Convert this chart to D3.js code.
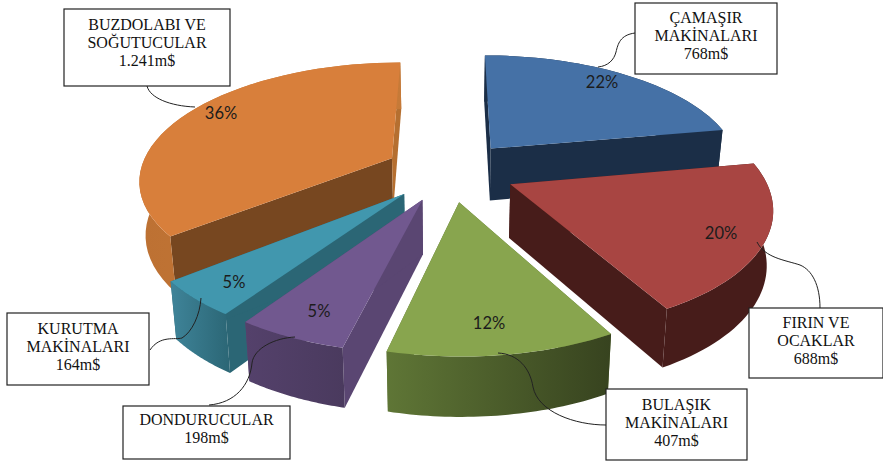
<!DOCTYPE html>
<html>
<head>
<meta charset="utf-8">
<script src="https://cdn.jsdelivr.net/npm/d3@7"></script>
<style>
  html, body { margin: 0; padding: 0; background: #fff; }
  svg { display: block; }
</style>
</head>
<body>
<svg id="chart"></svg>
<script>
// data, clockwise from 12 o'clock
const categories = ["ÇAMAŞIR MAKİNALARI", "FIRIN VE OCAKLAR", "BULAŞIK MAKİNALARI", "DONDURUCULAR", "KURUTMA MAKİNALARI", "BUZDOLABI VE SOĞUTUCULAR"];
const values = [768, 688, 407, 198, 164, 1241];
const valueLabels = ["768m$", "688m$", "407m$", "198m$", "164m$", "1.241m$"];
const percentLabels = ["22%", "20%", "12%", "5%", "5%", "36%"];

// styles
const topColors = ["#4571a6", "#a84542", "#88a54e", "#71588f", "#4197ae", "#d87f3b"];
const startWallColors = ["#1b2e47", "#471c1a", "#5b7033", "#5a4672", "#2b6675", "#774720"];
const endWallColors = ["#1b2e47", "#471c1a", "#5b7033", "#5a4672", "#2b6675", "#b56f30"];
const rimColors = [["#1b2e47", "#1b2e47"], ["#471c1a", "#471c1a"], ["#5f7636", "#37431f"], ["#54416b", "#4a3a5e"], ["#3f8499", "#2b6675"], ["#bd7133", "#c67a38"]];

// annotation layout: box x, y, w, h, first baseline, text lines, leader path, percent label spot
const boxLines = [["ÇAMAŞIR", "MAKİNALARI"], ["FIRIN VE", "OCAKLAR"], ["BULAŞIK", "MAKİNALARI"], ["DONDURUCULAR"], ["KURUTMA", "MAKİNALARI"], ["BUZDOLABI VE", "SOĞUTUCULAR"]];
const boxes = [[635, 3, 142, 71, 20], [749, 308, 134, 70, 20], [606, 389, 141, 71, 21], [123, 406, 167, 53, 19], [7, 313, 142, 72, 21], [64, 9, 166, 77, 21]];
const leaders = [
  "M635,33 C620,35 618,44 616,52 C614,60 608,66 598,67",
  "M820,308 C820,285 812,270 800,265 C785,260 765,258 757,242",
  "M606,425 C575,425 538,412 533,387 C530,368 518,354 498,353",
  "M209,405 C235,403 250,385 252,363 C254,348 275,338 295,337",
  "M150,350 C160,335 175,340 182,338 C192,332 200,315 201,298",
  "M147,86 C150,98 170,106 195,107"
];
const percentSpots = [[602, 82], [721, 233], [489, 323], [319, 311], [234, 282], [221, 113]];

const width = 883;
const height = 464;

const svg = d3.select("#chart").attr("width", width).attr("height", height);
const defs = svg.append("defs");

// the disc lives in unit coordinates, this puts it on the screen with some perspective
const cx = 450, cy = 171, rx = 252, ry = 116, persp = 0.17;
const explode = 0.26;
const scaleX = d3.scaleLinear().domain([0, 1]).range([cx, cx + rx]);
const scaleY = d3.scaleLinear().domain([0, 1]).range([cy, cy - ry]);

function project(X, Y, drop) {
  const w = 1 + persp * Y;
  // walls lean in a little towards the middle
  const x = drop ? (X / w) * 0.98 : X / w;
  return [scaleX(x), scaleY(Y / w) + (drop ? 53 * (1 - 0.11 * Y) : 0)];
}

const pie = d3.pie().sort(null).value((d) => d);
const arcs = pie(values);
const line = d3.line();

// every slice as points: apex plus the rim
const slices = arcs.map((a, i) => {
  const mid = (a.startAngle + a.endAngle) / 2;
  const ox = explode * Math.sin(mid);
  const oy = explode * Math.cos(mid);
  const steps = d3.range(0, 41).map((s) => a.startAngle + (a.endAngle - a.startAngle) * s / 40);
  const rim = steps.map((t) => [ox + Math.sin(t), oy + Math.cos(t)]);
  return { i, ox, oy, rim };
});

const flat = (p) => project(p[0], p[1], false);
const low = (p) => project(p[0], p[1], true);

slices.forEach((s) => {
  const g = defs.append("linearGradient").attr("id", "rim" + s.i);
  g.append("stop").attr("offset", "0%").attr("stop-color", rimColors[s.i][0]);
  g.append("stop").attr("offset", "100%").attr("stop-color", rimColors[s.i][1]);
});

const drawOrder = [0, 5, 1, 4, 3, 2];
const pieG = svg.append("g");

drawOrder.forEach((i) => {
  const s = slices[i];
  const apex = [s.ox, s.oy];
  const first = s.rim[0];
  const last = s.rim[s.rim.length - 1];
  const g = pieG.append("g");

  // two cut walls
  [[first, startWallColors[i]], [last, endWallColors[i]]].forEach(([edge, color]) => {
    g.append("path")
      .attr("d", line([flat(apex), flat(edge), low(edge), low(apex)]) + "Z")
      .attr("fill", color);
  });
  // outer wall
  g.append("path")
    .attr("d", line(s.rim.map(flat).concat(s.rim.slice().reverse().map(low))) + "Z")
    .attr("fill", `url(#rim${i})`);
  // top face
  g.append("path")
    .attr("d", line([flat(apex)].concat(s.rim.map(flat))) + "Z")
    .attr("fill", topColors[i]);
});

// percent labels
svg.append("g")
  .selectAll("text")
  .data(percentLabels)
  .join("text")
  .attr("x", (d, i) => percentSpots[i][0])
  .attr("y", (d, i) => percentSpots[i][1])
  .attr("dy", "0.35em")
  .attr("text-anchor", "middle")
  .attr("font-family", "Lato, 'Open Sans', sans-serif")
  .attr("font-size", 16.5)
  .attr("fill", "#1c1c1c")
  .text((d) => d);

// leader lines
svg.append("g")
  .selectAll("path")
  .data(leaders)
  .join("path")
  .attr("d", (d) => d)
  .attr("fill", "none")
  .attr("stroke", "#222")
  .attr("stroke-width", 1);

// callout boxes
const box = svg.append("g")
  .selectAll("g")
  .data(categories)
  .join("g")
  .attr("transform", (d, i) => `translate(${boxes[i][0]},${boxes[i][1]})`);

box.append("rect")
  .attr("width", (d, i) => boxes[i][2])
  .attr("height", (d, i) => boxes[i][3])
  .attr("fill", "#fff")
  .attr("stroke", "#222")
  .attr("stroke-width", 1.2);

box.each(function (d, i) {
  const rows = boxLines[i].concat(valueLabels[i]);
  d3.select(this).selectAll("text")
    .data(rows)
    .join("text")
    .attr("x", boxes[i][2] / 2)
    .attr("y", (r, k) => boxes[i][4] + k * 18)
    .attr("text-anchor", "middle")
    .attr("font-family", "'Liberation Serif', serif")
    .attr("font-size", 16)
    .attr("fill", "#111")
    .text((r) => r);
});
</script>
</body>
</html>
